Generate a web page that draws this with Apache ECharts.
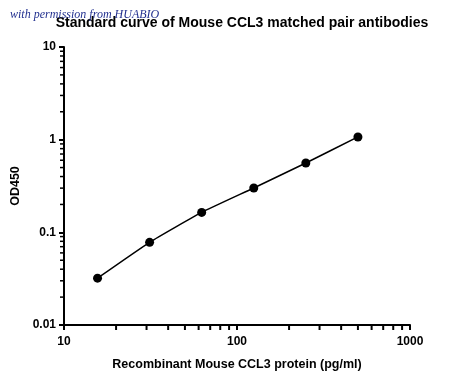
<!DOCTYPE html>
<html><head><meta charset="utf-8">
<script src="https://cdn.jsdelivr.net/npm/echarts@6/dist/echarts.min.js"></script>
<style>html,body{margin:0;padding:0;background:#fff}#c{width:450px;height:383px}</style>
</head><body><div id="c"></div>
<script>
const concentrations = [15.625, 31.25, 62.5, 125, 250, 500];
const od450 = [0.032, 0.078, 0.164, 0.301, 0.560, 1.07];
const xMinorTicks = [20,30,40,50,60,70,80,90,200,300,400,500,600,700,800,900];
const yMinorTicks = [0.02,0.03,0.04,0.05,0.06,0.07,0.08,0.09,0.2,0.3,0.4,0.5,0.6,0.7,0.8,0.9,2,3,4,5,6,7,8,9];
const titleText = 'Standard curve of Mouse CCL3 matched pair antibodies';
const xName = 'Recombinant Mouse CCL3 protein (pg/ml)';
const yName = 'OD450';
const watermark = 'with permission from HUABIO';

const font = 'Liberation Sans, Arial, sans-serif';
const chart = echarts.init(document.getElementById('c'));
const axisCommon = {
  type: 'log', logBase: 10,
  axisLine: {show: true, lineStyle: {color: '#000', width: 2}},
  axisTick: {show: true, length: 5, lineStyle: {color: '#000', width: 2}},
  axisLabel: {color: '#000', fontFamily: font, fontWeight: 'bold', fontSize: 12,
    formatter: v => String(v)},
  splitLine: {show: false},
  nameLocation: 'middle',
  nameTextStyle: {color: '#000', fontFamily: font, fontWeight: 'bold', fontSize: 12.5}
};
chart.setOption({
  animation: false,
  title: {text: titleText, left: 237, textAlign: 'center', top: 11,
    textStyle: {fontFamily: font, fontWeight: 'bold', fontSize: 14, color: '#000'}},
  graphic: [{type: 'text', left: 10, top: 9, z: 100,
    style: {text: watermark, fill: '#22308f', font: 'italic 12px "Liberation Serif", serif'}}],
  grid: {left: 64, right: 40, top: 47, bottom: 58},
  xAxis: Object.assign({}, axisCommon, {min: 10, max: 1000, name: xName, nameGap: 33,
    axisLabel: Object.assign({}, axisCommon.axisLabel, {margin: 11})}),
  yAxis: Object.assign({}, axisCommon, {min: 0.01, max: 10, name: yName, nameGap: 36,
    axisLabel: Object.assign({}, axisCommon.axisLabel, {margin: 8})}),
  series: [
    {type: 'line', data: concentrations.map((c, i) => [c, od450[i]]),
      smooth: 0.15, symbol: 'circle', symbolSize: 9, showSymbol: true,
      lineStyle: {color: '#000', width: 1.5}, itemStyle: {color: '#000'}, z: 3},
    {type: 'custom', clip: false, silent: true, z: 2,
      data: xMinorTicks.map(v => [v, 0.01]),
      renderItem: (params, api) => {
        const p = api.coord([api.value(0), api.value(1)]);
        return {type: 'line', shape: {x1: p[0], y1: p[1], x2: p[0], y2: p[1] + 5},
          style: {stroke: '#000', lineWidth: 2}};
      }},
    {type: 'custom', clip: false, silent: true, z: 2,
      data: yMinorTicks.map(v => [10, v]),
      renderItem: (params, api) => {
        const p = api.coord([api.value(0), api.value(1)]);
        return {type: 'line', shape: {x1: p[0] - 4, y1: p[1], x2: p[0], y2: p[1]},
          style: {stroke: '#000', lineWidth: 1.5}};
      }}
  ]
});
</script></body></html>
